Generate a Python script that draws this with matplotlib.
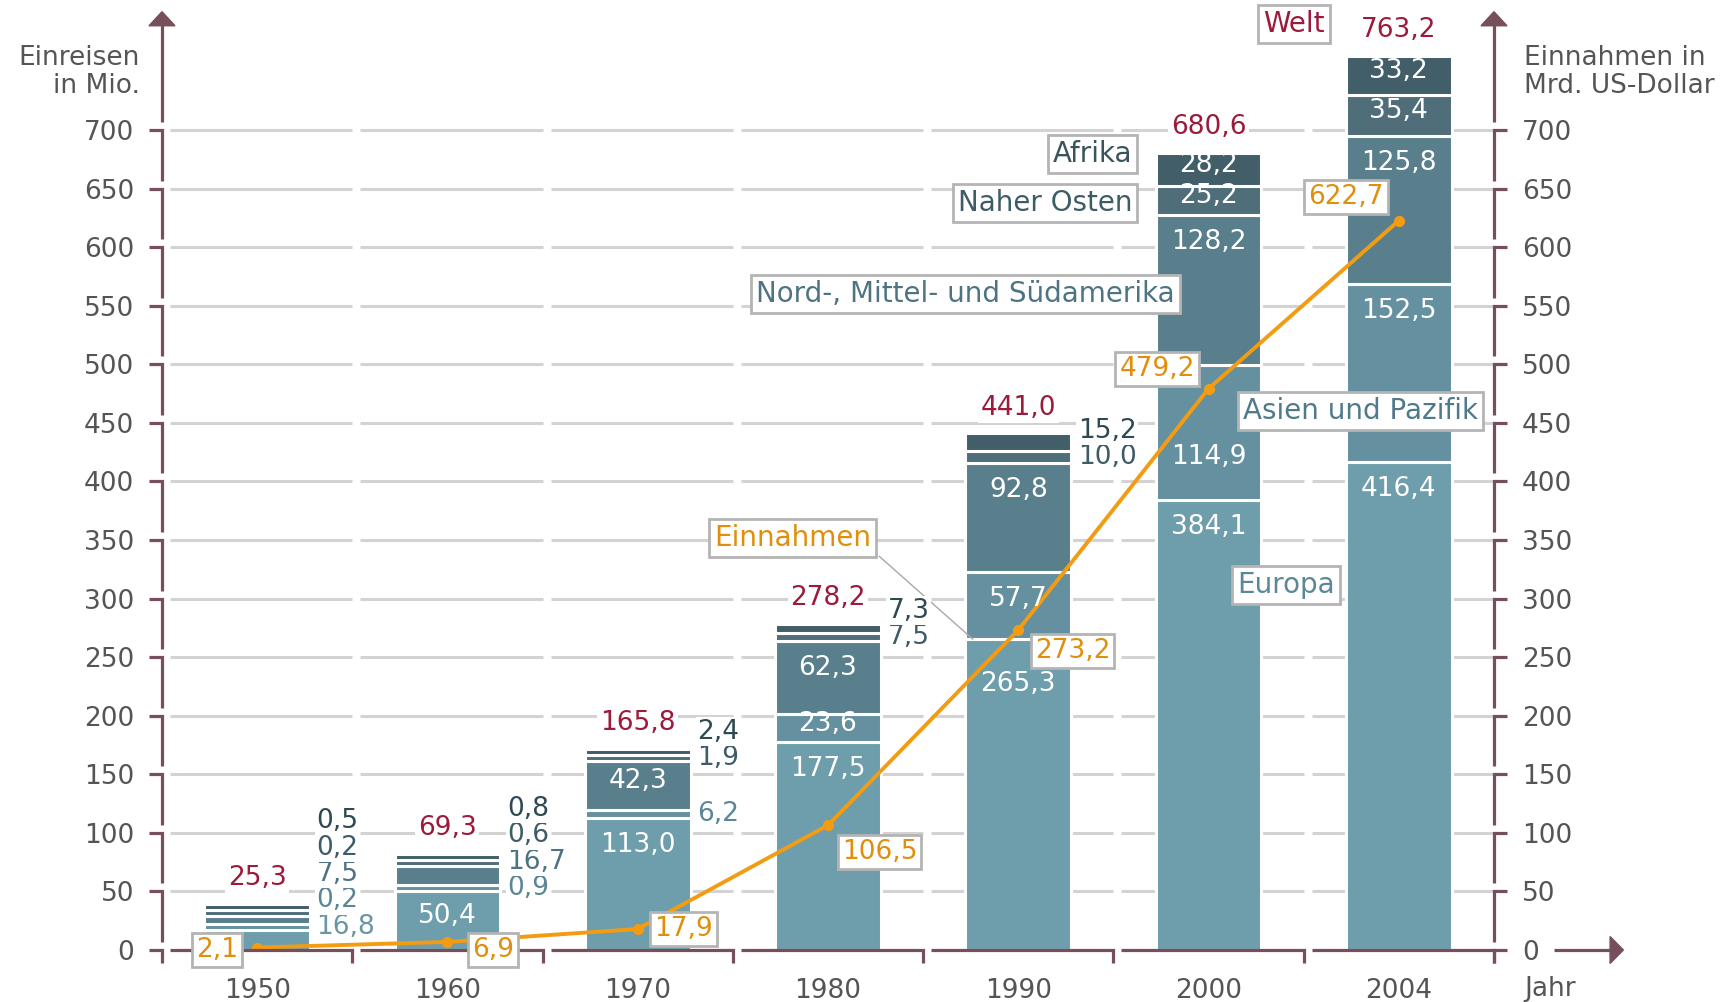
import numpy as np
import matplotlib
matplotlib.use("Agg")
import matplotlib.pyplot as plt
from matplotlib.patches import Polygon

# data (Einreisen in Mio. / Einnahmen in Mrd. US-Dollar)
years = ["1950", "1960", "1970", "1980", "1990", "2000", "2004"]
europa = [16.8, 50.4, 113.0, 177.5, 265.3, 384.1, 416.4]
asien = [0.2, 0.9, 6.2, 23.6, 57.7, 114.9, 152.5]
amerika = [7.5, 16.7, 42.3, 62.3, 92.8, 128.2, 125.8]
nahost = [0.2, 0.6, 1.9, 7.5, 10.0, 25.2, 35.4]
afrika = [0.5, 0.8, 2.4, 7.3, 15.2, 28.2, 33.2]
welt = [25.3, 69.3, 165.8, 278.2, 441.0, 680.6, 763.2]
einnahmen = [2.1, 6.9, 17.9, 106.5, 273.2, 479.2, 622.7]

bar_colors = ["#6e9eab", "#6590a0", "#5a7f8c", "#4f6e79", "#425e68"]
text_colors = ["#6a96a4", "#5a8696", "#4d7282", "#3e5c67", "#2f4952"]
regions = [europa, asien, amerika, nahost, afrika]

axis_col = "#774f5b"
grid_col = "#d3d3d3"
tick_col = "#555555"
red = "#9c1a3a"
orange = "#f39c12"
orange_txt = "#e08e0b"
box_edge = "#b4b4b4"

plt.rcParams["font.family"] = "DejaVu Sans"
FS = 19
FS_CAT = 20


def de(v):
    return f"{v:.1f}".replace(".", ",")


fig = plt.figure(figsize=(17.34, 10.02), dpi=100)
ax = fig.add_axes([162 / 1734, 52 / 1002, 1332 / 1734, 950 / 1002])
ax.set_xlim(-0.5, 6.5)
ax.set_ylim(0, 811)
for s in ax.spines.values():
    s.set_visible(False)

PX_Y = 950 / 811
PX_X = 1332 / 7
x = np.arange(len(years))

# axes ticks / labels
ticks = np.arange(0, 701, 50)
ax.set_yticks(ticks)
ax.set_yticklabels([str(t) for t in ticks])
ax.tick_params(axis="y", length=0, pad=20, labelsize=FS, labelcolor=tick_col,
               labelleft=True, labelright=True)
ax.set_xticks(x)
ax.set_xticklabels(years)
ax.tick_params(axis="x", length=0, pad=20, labelsize=FS, labelcolor=tick_col)

gap_y = 8 / PX_Y
gap_x = 8 / PX_X
tlen = 13 / PX_X
drop = 13 / PX_Y
lw_ax = 2.3
kw = dict(color=axis_col, lw=lw_ax, clip_on=False, solid_capstyle="butt",
          solid_joinstyle="miter", zorder=6)

# y axes drawn as brackets
for xa, sgn in [(-0.5, -1), (6.5, 1)]:
    for v in ticks:
        lo = v - 50 + gap_y if v > 0 else -drop
        ax.plot([xa + sgn * tlen, xa, xa], [v, v, lo], **kw)
    ax.plot([xa, xa], [700 + gap_y, 790], **kw)
    hw = 13 / PX_X
    ax.add_patch(Polygon([(xa - hw, 789), (xa + hw, 789), (xa, 801)], closed=True,
                         color=axis_col, clip_on=False, zorder=6))

# x axis
for i in x:
    ax.plot([i - 0.5 + gap_x, i + 0.5, i + 0.5], [0, 0, -drop], **kw)
ax.plot([6.815, 7.12], [0, 0], **kw)
ax.add_patch(Polygon([(7.11, -11.5), (7.11, 11.5), (7.18, 0)], closed=True,
                     color=axis_col, clip_on=False, zorder=6))

# grid
for v in ticks[1:]:
    for i in x:
        ax.plot([i - 0.5 + gap_x, i + 0.5], [v, v], color=grid_col, lw=2.2,
                solid_capstyle="butt", zorder=0)

# label positions moved by hand in the original (bar index, region index) -> y
moved = {(4, 0): 227, (5, 1): 421}

# stacked bars
width = 0.555
bottom = np.zeros(len(x))
outside = [[] for _ in x]
for r, (vals, fc, tc) in enumerate(zip(regions, bar_colors, text_colors)):
    vals = np.array(vals)
    h = np.maximum(vals, 5)
    ax.bar(x, h, width, bottom=bottom, color=fc, edgecolor="white", linewidth=2.2, zorder=2)
    for i in x:
        top = bottom[i] + h[i]
        if h[i] >= 20:
            y = moved.get((i, r), top - min(h[i] / 2 - 4, 23))
            ax.text(i, y, de(vals[i]), ha="center", va="center",
                    color="white", fontsize=FS, zorder=5)
        else:
            outside[i].append((bottom[i] + h[i] / 2, de(vals[i]), tc))
    bottom += h

for i in x:
    last = -1e9
    for c, txt, tc in outside[i]:
        y = max(c, 20, last + 22.5)
        last = y
        ax.text(i + width / 2 + 0.035, y, txt, ha="left", va="center", color=tc, fontsize=FS,
                zorder=5, bbox=dict(boxstyle="square,pad=0.05", fc="white", ec="none"))
    ax.text(i, bottom[i] + 22, de(welt[i]), ha="center", va="center", color=red, fontsize=FS,
            zorder=5, bbox=dict(boxstyle="square,pad=0.1", fc="white", ec="none"))

# Einnahmen line
ax.plot(x, einnahmen, color=orange, lw=2.8, marker="o", ms=7, zorder=4,
        solid_joinstyle="round")
offsets = [(-29, -2), (33, -6), (33, 0), (37, -19), (39, -15), (-37, 14), (-38, 17)]
for i, (v, off) in enumerate(zip(einnahmen, offsets)):
    ax.annotate(de(v), (i, v), xytext=off, textcoords="offset points", ha="center",
                va="center", color=orange_txt, fontsize=FS, zorder=7,
                bbox=dict(boxstyle="square,pad=0.15", fc="white", ec=box_edge, lw=2))

# category labels
box = dict(boxstyle="square,pad=0.18", fc="white", ec=box_edge, lw=2)
ax.plot([3.27, 3.76], [336, 265.5], color="#a8a8a8", lw=1, zorder=3)
labels = [
    ("Welt", 5.448, 790.2, red),
    ("Afrika", 4.391, 679.8, "#3a545d"),
    ("Naher Osten", 4.141, 637.3, "#3e5c66"),
    ("Nord-, Mittel- und Südamerika", 3.722, 559.8, "#4e7483"),
    ("Asien und Pazifik", 5.797, 459.8, "#4f7a8a"),
    ("Europa", 5.408, 311.6, "#5b8897"),
    ("Einnahmen", 2.816, 352.1, orange_txt),
]
for txt, lx, ly, c in labels:
    ax.text(lx, ly, txt, ha="center", va="center", color=c, fontsize=FS_CAT, zorder=8,
            bbox=box, clip_on=False)

# axis titles
ax.text(-0.615, 749.5, "Einreisen\nin Mio.", ha="right", va="center", multialignment="right",
        color=tick_col, fontsize=FS, linespacing=1.1, clip_on=False)
ax.text(6.658, 749.5, "Einnahmen in\nMrd. US-Dollar", ha="left", va="center",
        color=tick_col, fontsize=FS, linespacing=1.1, clip_on=False)
ax.text(6.658, -33.3, "Jahr", ha="left", va="center", color=tick_col, fontsize=FS,
        clip_on=False)

fig.savefig("out.png", dpi=100)
